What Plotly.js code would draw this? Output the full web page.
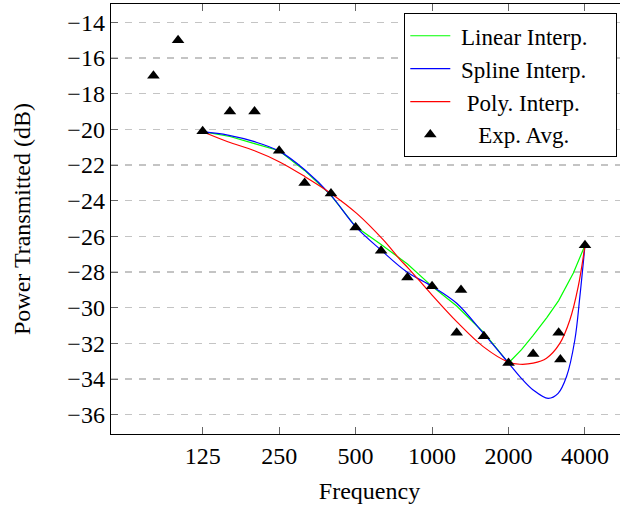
<!DOCTYPE html>
<html>
<head>
<meta charset="utf-8">
<script src="https://cdn.plot.ly/plotly-3.0.1.min.js"></script>
<style>
  html, body { margin: 0; padding: 0; overflow: hidden; background: #fff; }
  #chart { width: 630px; height: 506px; }
</style>
</head>
<body>
<div id="chart"></div>
<script>
// Measured averages (third-octave bands)
const avgFreq = [80, 100, 125, 160, 200, 250, 315, 400, 500, 630, 800, 1000, 1250, 1300, 1600, 2000, 2500, 3150, 3200, 4000];
const avgDb   = [-17, -15, -20.1, -19, -19, -21.2, -23, -23.6, -25.5, -26.8, -28.3, -28.8, -31.4, -29, -31.6, -33.1, -32.6, -31.4, -32.9, -26.5];

// Linear interpolation curve
const linFreq = [125, 160, 200, 250, 315, 400, 500, 630, 800, 1000, 1250, 1600, 2000, 2250, 2500, 2830, 3150, 3600, 4000];
const linDb   = [-20.13, -20.4, -20.8, -21.2, -22.3, -23.7, -25.45, -26.45, -27.55, -28.8, -29.9, -31.4, -33.1, -32.35, -31.55, -30.55, -29.6, -28.05, -26.5];

// Spline interpolation curve
const splFreq = [125, 157, 200, 250, 316, 400, 500, 630, 794, 1000, 1250, 1590, 2000, 2216, 2500, 2864, 3136, 3384, 3648, 3818, 4000];
const splDb   = [-20.13, -20.32, -20.69, -21.22, -22.28, -23.7, -25.45, -26.77, -27.98, -28.8, -29.75, -31.43, -33.1, -33.86, -34.61, -35.08, -34.8, -33.86, -31.81, -29.38, -26.5];

// Polynomial interpolation curve
const polFreq = [125, 157, 200, 250, 316, 400, 505, 643, 748, 807, 1000, 1250, 1590, 2000, 2216, 2500, 2822, 3184, 3487, 3761, 4000];
const polDb   = [-20.13, -20.69, -21.2, -21.81, -22.65, -23.59, -24.71, -26.2, -27.3, -27.79, -29.29, -30.78, -32.18, -33.05, -33.17, -33.11, -32.83, -32.0, -30.69, -28.82, -26.5];

// Axis ticks
const xTicks = [125, 250, 500, 1000, 2000, 4000];
const xTickText = ['125', '250', '500', '1000', '2000', '4000'];
const yTicks = [-36, -34, -32, -30, -28, -26, -24, -22, -20, -18, -16, -14];

// Legend names (non-breaking spaces centre the entries in the box)
const NB = '\u00a0';
const names = {
  lin: NB + 'Linear Interp.' + NB + NB + NB + NB,
  spl: NB + 'Spline Interp.',
  pol: NB + NB + 'Poly. Interp.',
  avg: NB + NB + NB + NB + 'Exp. Avg.'
};

const serif = 'Liberation Serif, Times New Roman, serif';

const traces = [
  { x: linFreq, y: linDb, name: names.lin, type: 'scatter', mode: 'lines',
    line: { color: '#00ff00', width: 1.2 } },
  { x: splFreq, y: splDb, name: names.spl, type: 'scatter', mode: 'lines',
    line: { color: '#0000ff', width: 1.2, shape: 'spline', smoothing: 1 } },
  { x: polFreq, y: polDb, name: names.pol, type: 'scatter', mode: 'lines',
    line: { color: '#ff0000', width: 1.2, shape: 'spline', smoothing: 1 } },
  { x: avgFreq, y: avgDb, name: names.avg, type: 'scatter', mode: 'markers',
    marker: { symbol: 'triangle-up', size: 11, color: '#000' } }
];

const layout = {
  width: 630, height: 506,
  margin: { l: 111, r: 2, t: 4, b: 72 },
  paper_bgcolor: '#fff', plot_bgcolor: '#fff',
  font: { family: serif, size: 24, color: '#000' },
  showlegend: true,
  legend: {
    x: 0.5673, y: 0.9784, xanchor: 'left', yanchor: 'top',
    bgcolor: '#fff', bordercolor: '#000', borderwidth: 1,
    font: { family: serif, size: 23, color: '#000' },
    itemwidth: 40, tracegroupgap: 0
  },
  xaxis: {
    type: 'log',
    range: [Math.log10(54.45), Math.log10(5907)],
    tickvals: xTicks, ticktext: xTickText,
    ticks: 'inside', ticklen: 7, tickcolor: '#666', tickwidth: 1,
    showline: true, linecolor: '#000', linewidth: 1.3, mirror: 'ticks',
    showgrid: false, zeroline: false,
    tickfont: { family: serif, size: 24 },
    title: { text: 'Frequency', font: { family: serif, size: 24 }, standoff: 14 }
  },
  yaxis: {
    range: [-37.08, -12.97],
    tickvals: yTicks,
    ticks: 'inside', ticklen: 7, tickcolor: '#666', tickwidth: 1,
    showline: true, linecolor: '#000', linewidth: 1.3, mirror: 'ticks',
    showgrid: true, gridcolor: '#c4c4c4', gridwidth: 1.3, griddash: '7px,7px',
    zeroline: false,
    tickfont: { family: serif, size: 24 },
    title: { text: 'Power Transmitted (dB)', font: { family: serif, size: 24 }, standoff: 30 }
  }
};

Plotly.newPlot('chart', traces, layout, { displayModeBar: false, staticPlot: true });
</script>
</body>
</html>
